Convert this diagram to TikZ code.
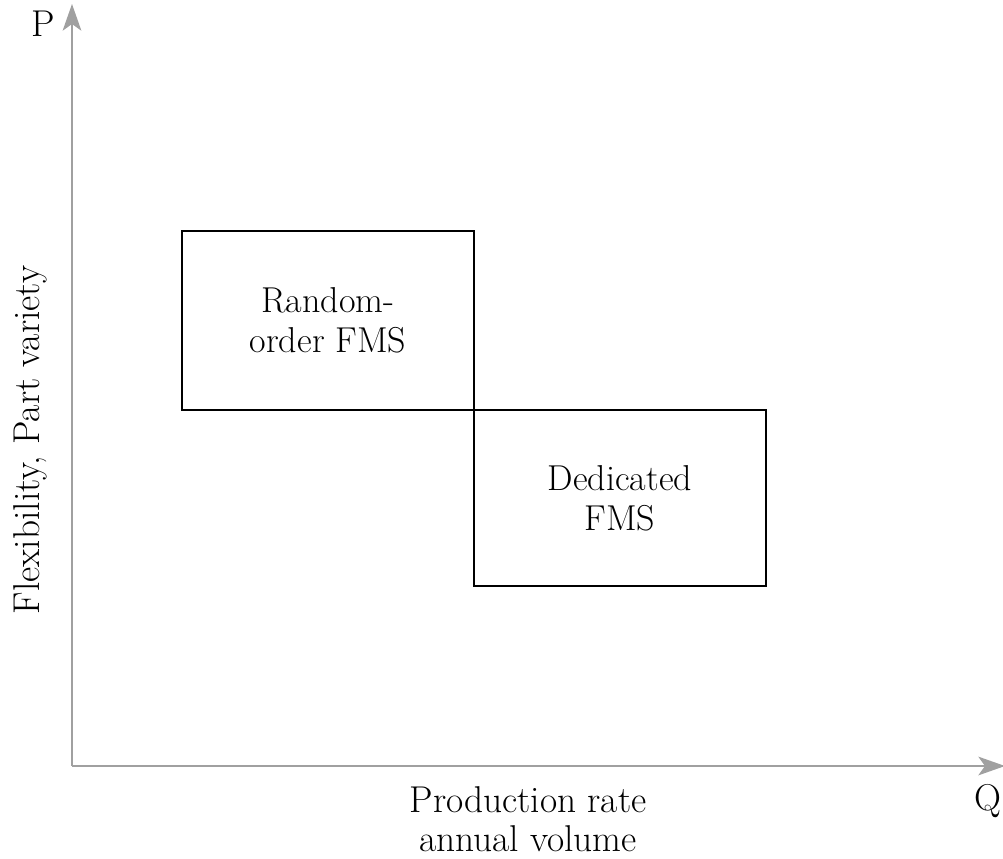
\documentclass[tikz,border=0pt]{standalone}
\usetikzlibrary{arrows.meta, positioning}
\definecolor{axisgray}{HTML}{A0A0A0}

\begin{document}
\begin{tikzpicture}[x=0.75pt, y=-0.75pt,
    axis/.style = {draw=axisgray, line width=1.5pt, -{Stealth[length=20pt, width=14pt, inset=5pt]}},
    fms/.style = {draw, line width=1.4pt, outer sep=0pt, inner sep=0pt, align=center,
                  font=\fontsize{27}{30}\selectfont},
    lbl/.style = {inner sep=0pt, align=center, font=\fontsize{28}{29}\selectfont}]
    \useasboundingbox (0,0) rectangle (1003,859);
    \coordinate (o) at (72,766);
    \coordinate (ytop) at (72,4);
    \coordinate (xend) at (1005,766);
    \draw[axis] (o) -- (ytop);
    \draw[axis] (o) -- (xend);
    \node[lbl] (p) at (43,24) {P};
    \node[lbl, anchor=east] (q) at (1002,801) {Q};
    \node[lbl, rotate=90] (ylab) at (30,440) {Flexibility, Part variety};
    \node[lbl] (xlab) at (528,819) {Production rate\\annual volume};
    \node[fms, minimum width=219pt, minimum height=134pt] (random) at (328,320.5) {Random-\\order FMS};
    \node[fms, minimum width=219pt, minimum height=132pt, anchor=north west] (dedicated) at (random.south east) {Dedicated\\FMS};
\end{tikzpicture}
\end{document}
